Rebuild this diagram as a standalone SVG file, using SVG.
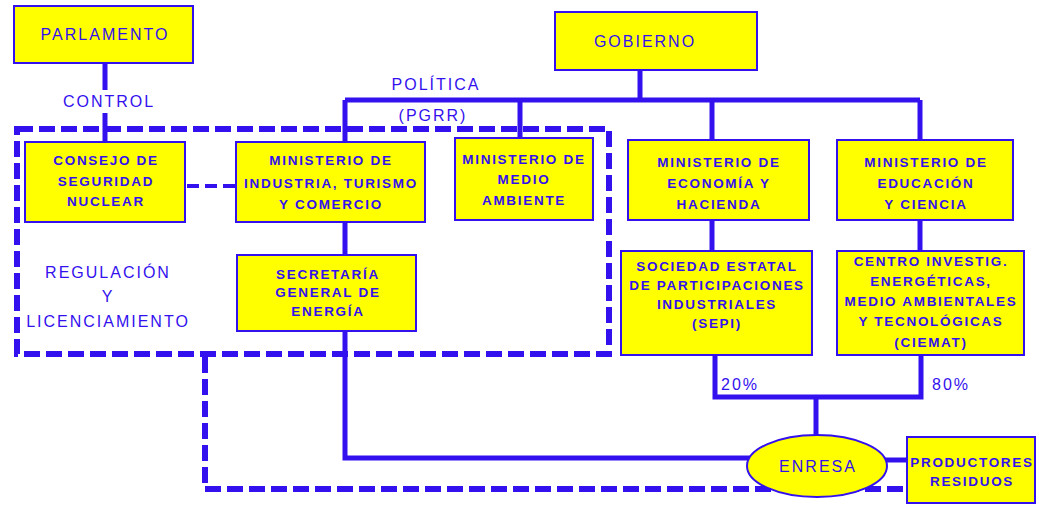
<svg xmlns="http://www.w3.org/2000/svg" width="1039" height="505" viewBox="0 0 1039 505">
<style>
.box{fill:#ffff00;stroke:#3311ee;stroke-width:2}
.ln{fill:none;stroke:#3311ee;stroke-width:5}
.dash{fill:none;stroke:#3311ee;stroke-width:6;stroke-dasharray:16 6}
.t{font-family:"Liberation Sans",Arial,sans-serif;fill:#3311ee;text-anchor:middle;dominant-baseline:central}
.nt{font-size:13.5px;font-weight:bold;letter-spacing:1.7px}
.lb{font-size:16px;letter-spacing:2px}
</style>
<rect width="1039" height="505" fill="#fff"/>
<g id="connectors">
<path class="ln" d="M105 63V90M105 113V143"/>
<path class="ln" d="M640 70V100M345 100H920M345 100V142M520 100V138M712 100V140M920 100V140"/>
<path class="ln" d="M345 222V255M712 220V251M920 220V251"/>
<path class="ln" d="M715 355V397H921V355M816 397V437"/>
<path class="ln" d="M345 331V458H760"/>
<path class="ln" d="M885 460H907"/>
<path class="dash" d="M187 186H236" style="stroke-width:4;stroke-dasharray:12 6"/>
<path class="dash" d="M17 129H609V354H17Z"/>
<path class="dash" d="M205 357V489H907"/>
</g>
<g id="parlamento"><rect class="box" x="14" y="6" width="179" height="57"/><text class="t lb" x="105" y="34">PARLAMENTO</text></g>
<g id="gobierno"><rect class="box" x="555" y="12" width="202" height="58"/><text class="t lb" x="645" y="41">GOBIERNO</text></g>
<g id="label-control"><text class="t lb" x="109" y="101">CONTROL</text></g>
<g id="label-politica"><text class="t lb" x="436" y="84">POLÍTICA</text><text class="t lb" x="433" y="115">(PGRR)</text></g>
<g id="consejo"><rect class="box" x="25" y="142" width="160" height="80"/>
<text class="t nt" x="106" y="160">CONSEJO DE</text><text class="t nt" x="106" y="181">SEGURIDAD</text><text class="t nt" x="106" y="201">NUCLEAR</text></g>
<g id="min-industria"><rect class="box" x="236" y="142" width="189" height="80"/>
<text class="t nt" x="331" y="160">MINISTERIO DE</text><text class="t nt" x="331" y="183">INDUSTRIA, TURISMO</text><text class="t nt" x="331" y="204">Y COMERCIO</text></g>
<g id="min-medio"><rect class="box" x="455" y="138" width="138" height="82"/>
<text class="t nt" x="524" y="159">MINISTERIO DE</text><text class="t nt" x="524" y="179">MEDIO</text><text class="t nt" x="524" y="200">AMBIENTE</text></g>
<g id="min-economia"><rect class="box" x="628" y="140" width="181" height="80"/>
<text class="t nt" x="719" y="162">MINISTERIO DE</text><text class="t nt" x="719" y="183">ECONOMÍA Y</text><text class="t nt" x="719" y="204">HACIENDA</text></g>
<g id="min-educacion"><rect class="box" x="837" y="140" width="176" height="80"/>
<text class="t nt" x="926" y="162">MINISTERIO DE</text><text class="t nt" x="926" y="183">EDUCACIÓN</text><text class="t nt" x="926" y="204">Y CIENCIA</text></g>
<g id="secretaria"><rect class="box" x="237" y="255" width="179" height="76"/>
<text class="t nt" x="328" y="274">SECRETARÍA</text><text class="t nt" x="328" y="292">GENERAL DE</text><text class="t nt" x="328" y="311">ENERGÍA</text></g>
<g id="label-regulacion"><text class="t lb" x="108" y="272">REGULACIÓN</text><text class="t lb" x="108" y="296">Y</text><text class="t lb" x="108" y="321">LICENCIAMIENTO</text></g>
<g id="sepi"><rect class="box" x="621" y="251" width="191" height="104"/>
<text class="t nt" x="717" y="266">SOCIEDAD ESTATAL</text><text class="t nt" x="717" y="285">DE PARTICIPACIONES</text><text class="t nt" x="717" y="304">INDUSTRIALES</text><text class="t nt" x="717" y="323">(SEPI)</text></g>
<g id="ciemat"><rect class="box" x="837" y="251" width="187" height="104"/>
<text class="t nt" x="931" y="261">CENTRO INVESTIG.</text><text class="t nt" x="931" y="281">ENERGÉTICAS,</text><text class="t nt" x="931" y="301">MEDIO AMBIENTALES</text><text class="t nt" x="931" y="321">Y TECNOLÓGICAS</text><text class="t nt" x="931" y="342">(CIEMAT)</text></g>
<g id="label-pct"><text class="t lb" x="740" y="384">20%</text><text class="t lb" x="951" y="384">80%</text></g>
<g id="enresa"><ellipse class="box" cx="817" cy="466" rx="70" ry="31"/><text class="t lb" x="818" y="466">ENRESA</text></g>
<g id="productores"><rect class="box" x="907" y="437" width="128" height="66"/>
<text class="t nt" x="972" y="462">PRODUCTORES</text><text class="t nt" x="972" y="481">RESIDUOS</text></g>
</svg>
